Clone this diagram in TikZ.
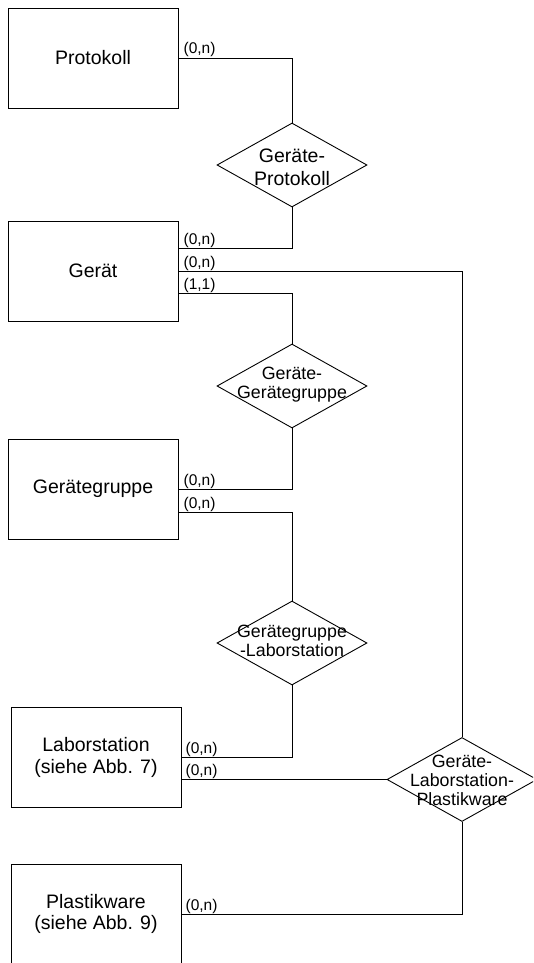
\documentclass[tikz,border=0pt]{standalone}
\usepackage{fontspec}
\setmainfont{Liberation Sans}
\usetikzlibrary{shapes.geometric,calc}
\begin{document}
\begin{tikzpicture}[x=1pt,y=-1pt,
  entity/.style={draw, rectangle, line width=0.9pt, minimum width=170pt, minimum height=100pt,
    inner sep=0pt, align=center, font=\fontsize{19.5}{21.5}\selectfont},
  relation/.style={draw, diamond, line width=0.9pt, minimum width=150pt, minimum height=84pt, inner sep=0pt},
  reltext/.style={align=center, inner sep=0pt, font=\fontsize{17.8}{19}\selectfont},
  bigreltext/.style={align=center, inner sep=0pt, font=\fontsize{19.5}{23}\selectfont},
  card/.style={anchor=base west, inner sep=0pt, font=\fontsize{15.5}{17}\selectfont},
  link/.style={line width=0.9pt}]
\useasboundingbox (0,0) rectangle (533,963);
\clip (0,0) rectangle (533,963);

% entities
\node[entity] (prot)  at (93,58)    {Protokoll};
\node[entity] (gerat) at (93,271)   {Gerät};
\node[entity] (gg)    at (93,489)   {Gerätegruppe};
\node[entity] (lab)   at (96,757.5) {Laborstation\\(siehe Abb. 7)};
\node[entity] (plast) at (96,914)   {Plastikware\\(siehe Abb. 9)};

% relationships
\node[relation] (d1) at (292,165)   {};
\node[relation] (d2) at (292,386)   {};
\node[relation] (d3) at (292,643)   {};
\node[relation] (d4) at (462,779.5) {};
\node[bigreltext] (t1) at ($(d1)+(0,2)$)   {Geräte-\\Protokoll};
\node[reltext]    (t2) at ($(d2)+(0,-1)$)  {Geräte-\\Gerätegruppe};
\node[reltext]    (t3) at ($(d3)+(0,-2)$)  {Gerätegruppe\\-Laborstation};
\node[reltext]    (t4) at ($(d4)+(0,1)$)   {Geräte-\\Laborstation-\\Plastikware};

% Protokoll -- Geräte-Protokoll
\draw[link] (prot.east) -- (prot.east -| d1.north) -- (d1.north);
\node[card] (c1) at ($(prot.east)+(5,-4)$) {(0,n)};

% Gerät -- Geräte-Protokoll
\coordinate (g1) at ($(gerat.east)+(0,-23)$);
\draw[link] (g1) -- (g1 -| d1.south) -- (d1.south);
\node[card] (c2) at ($(g1)+(5,-4)$) {(0,n)};

% Gerät -- Geräte-Laborstation-Plastikware
\draw[link] (gerat.east) -- (gerat.east -| d4.north) -- (d4.north);
\node[card] (c3) at ($(gerat.east)+(5,-4)$) {(0,n)};

% Gerät -- Geräte-Gerätegruppe
\coordinate (g3) at ($(gerat.east)+(0,22)$);
\draw[link] (g3) -- (g3 -| d2.north) -- (d2.north);
\node[card] (c4) at ($(g3)+(5,-4)$) {(1,1)};

% Gerätegruppe -- Geräte-Gerätegruppe
\draw[link] (gg.east) -- (gg.east -| d2.south) -- (d2.south);
\node[card] (c5) at ($(gg.east)+(5,-4)$) {(0,n)};

% Gerätegruppe -- Gerätegruppe-Laborstation
\coordinate (gg2) at ($(gg.east)+(0,23)$);
\draw[link] (gg2) -- (gg2 -| d3.north) -- (d3.north);
\node[card] (c6) at ($(gg2)+(5,-4)$) {(0,n)};

% Laborstation -- Gerätegruppe-Laborstation
\draw[link] (lab.east) -- (lab.east -| d3.south) -- (d3.south);
\node[card] (c7) at ($(lab.east)+(4,-4)$) {(0,n)};

% Laborstation -- Geräte-Laborstation-Plastikware
\coordinate (l2) at ($(lab.east)+(0,22)$);
\draw[link] (l2) -- (d4.west);
\node[card] (c8) at ($(l2)+(4,-4)$) {(0,n)};

% Plastikware -- Geräte-Laborstation-Plastikware
\draw[link] (plast.east) -- (plast.east -| d4.south) -- (d4.south);
\node[card] (c9) at ($(plast.east)+(4,-4)$) {(0,n)};
\end{tikzpicture}
\end{document}
